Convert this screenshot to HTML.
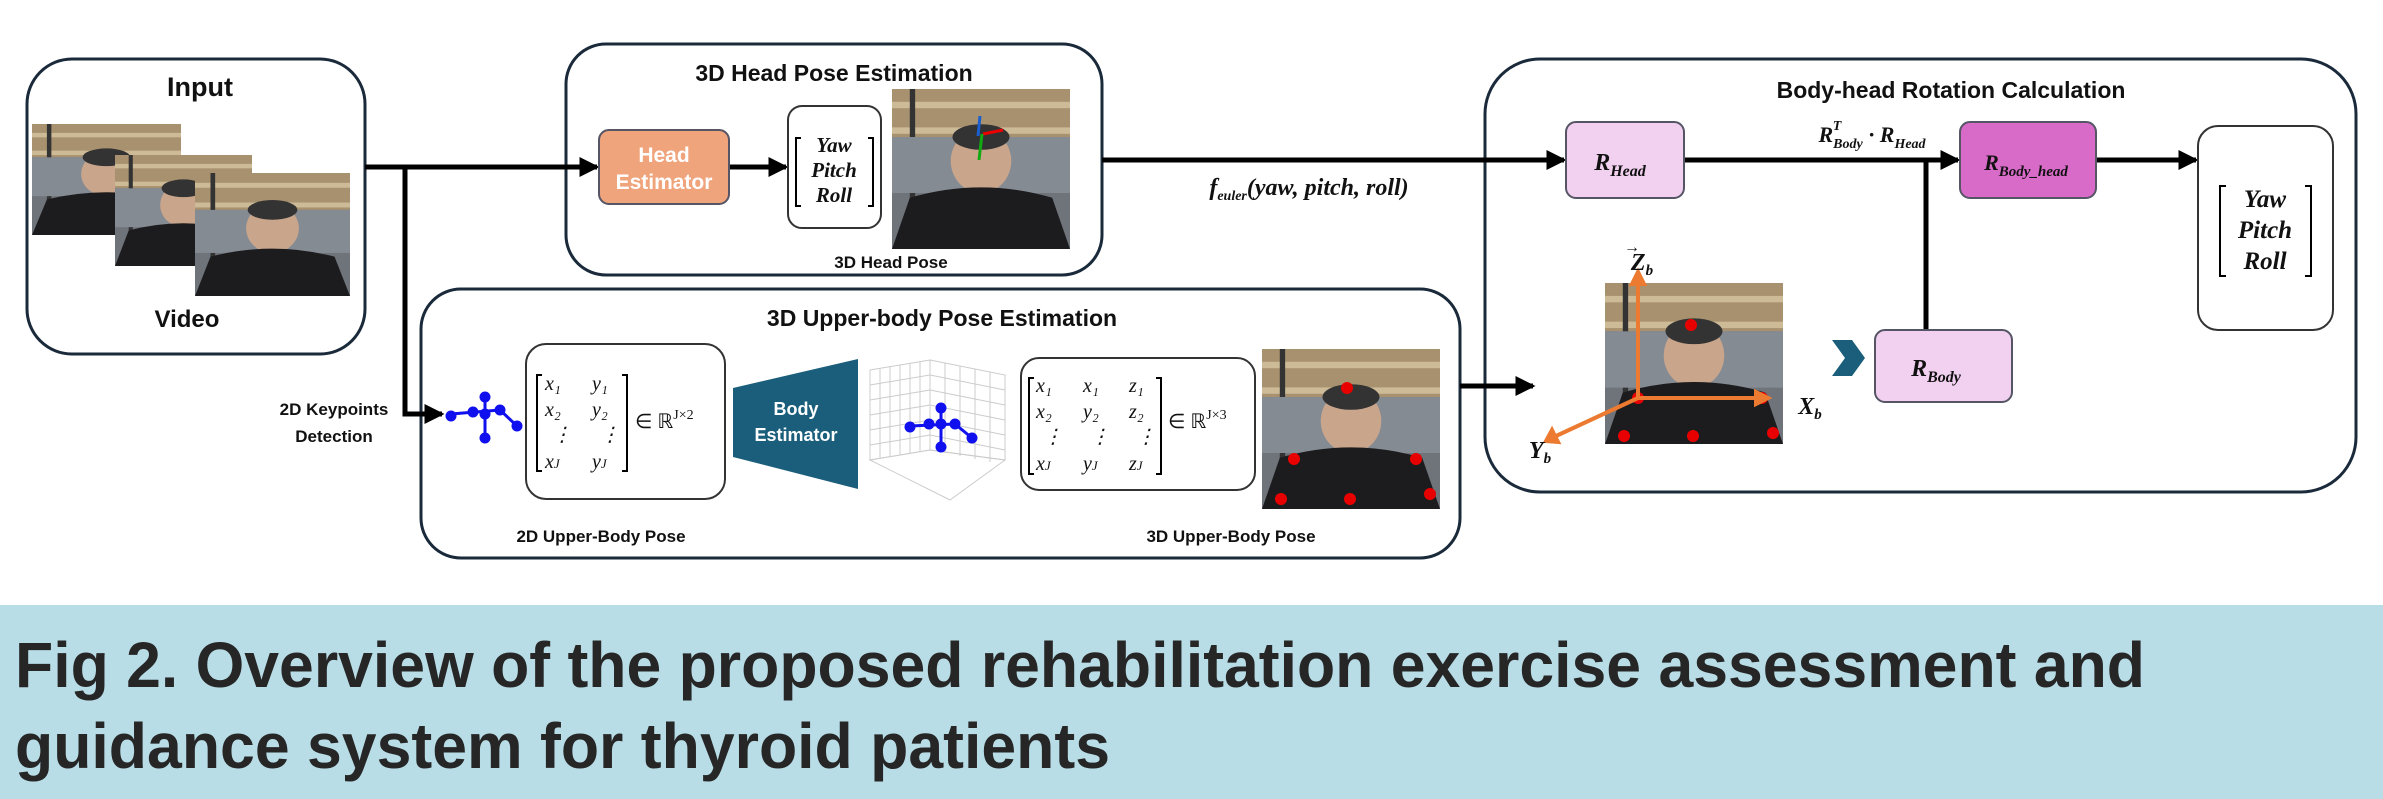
<!DOCTYPE html>
<html><head><meta charset="utf-8"><style>
html,body{margin:0;padding:0;background:#fff;width:2383px;height:799px;overflow:hidden}
svg{display:block}
.t{font-family:"Liberation Sans",sans-serif;font-weight:bold;fill:#111}
.m{font-family:"Liberation Serif",serif;font-style:italic;font-weight:bold;fill:#111}
</style></head><body>
<svg width="2383" height="799" viewBox="0 0 2383 799" xmlns="http://www.w3.org/2000/svg">
<defs>
<marker id="ar" markerWidth="4" markerHeight="4" refX="3.5" refY="2" orient="auto" markerUnits="strokeWidth"><path d="M0,0 L4,2 L0,4 z" fill="#000"/></marker>
<symbol id="ph" viewBox="0 0 100 100" preserveAspectRatio="none">
<rect width="100" height="100" fill="#6f747b"/>
<rect width="100" height="30" fill="#a8916e"/>
<rect y="8" width="100" height="4" fill="#cdbb98"/>
<rect y="24" width="100" height="4" fill="#cdbb98"/>
<rect x="10" y="0" width="3" height="100" fill="#333"/>
<rect x="0" y="30" width="100" height="35" fill="#858b93"/>
<ellipse cx="50" cy="45" rx="17" ry="20" fill="#c9a58c"/>
<ellipse cx="50" cy="30" rx="16" ry="8" fill="#333"/>
<path d="M0,100 L10,68 Q50,55 90,68 L100,100 z" fill="#1c1c1e"/>
</symbol>
</defs>

<rect x="0" y="605" width="2383" height="194" fill="#b8dde7"/>
<text x="15" y="687" class="t" font-size="64" textLength="2130" lengthAdjust="spacingAndGlyphs" style="fill:#262626">Fig 2. Overview of the proposed rehabilitation exercise assessment and</text>
<text x="15" y="768" class="t" font-size="64" textLength="1095" lengthAdjust="spacingAndGlyphs" style="fill:#262626">guidance system for thyroid patients</text>

<g fill="none" stroke="#1a2a3a" stroke-width="3">
<rect x="27" y="59" width="338" height="295" rx="45"/>
<rect x="566" y="44" width="536" height="231" rx="40"/>
<rect x="421" y="289" width="1039" height="269" rx="40"/>
<rect x="1485" y="59" width="871" height="433" rx="55"/>
</g>

<text x="200" y="96" class="t" font-size="27" text-anchor="middle">Input</text>
<use href="#ph" x="32" y="124" width="149" height="111"/>
<use href="#ph" x="115" y="155" width="137" height="111"/>
<use href="#ph" x="195" y="173" width="155" height="123"/>
<text x="187" y="327" class="t" font-size="24" text-anchor="middle">Video</text>

<g stroke="#000" stroke-width="5" fill="none">
<line x1="365" y1="167" x2="597" y2="167" marker-end="url(#ar)"/>
<polyline points="405,167 405,414 442,414" marker-end="url(#ar)"/>
<line x1="729" y1="167" x2="786" y2="167" marker-end="url(#ar)"/>
<line x1="1102" y1="160" x2="1564" y2="160" marker-end="url(#ar)"/>
<line x1="1684" y1="160" x2="1958" y2="160" marker-end="url(#ar)"/>
<line x1="1926" y1="160" x2="1926" y2="330"/>
<line x1="2096" y1="160" x2="2196" y2="160" marker-end="url(#ar)"/>
<line x1="1460" y1="386" x2="1533" y2="386" marker-end="url(#ar)"/>
</g>

<text x="834" y="81" class="t" font-size="23" text-anchor="middle">3D Head Pose Estimation</text>
<rect x="599" y="130" width="130" height="74" rx="10" fill="#f0a47c" stroke="#556" stroke-width="2"/>
<text x="664" y="162" class="t" font-size="21" text-anchor="middle" style="fill:#fff">Head</text>
<text x="664" y="189" class="t" font-size="21" text-anchor="middle" style="fill:#fff">Estimator</text>
<rect x="788" y="106" width="93" height="122" rx="14" fill="#fff" stroke="#333" stroke-width="2"/>
<path d="M801,138 h-5 v68 h5 M868,138 h5 v68 h-5" stroke="#000" stroke-width="2" fill="none"/>
<text x="834" y="152" class="m" font-size="21" text-anchor="middle">Yaw</text>
<text x="834" y="177" class="m" font-size="21" text-anchor="middle">Pitch</text>
<text x="834" y="202" class="m" font-size="21" text-anchor="middle">Roll</text>
<use href="#ph" x="892" y="89" width="178" height="160"/>
<line x1="980" y1="116" x2="978" y2="136" stroke="#1a5fd0" stroke-width="3"/>
<line x1="983" y1="134" x2="1003" y2="130" stroke="#e00" stroke-width="3"/>
<line x1="982" y1="134" x2="979" y2="160" stroke="#1a1" stroke-width="3"/>
<text x="891" y="268" class="t" font-size="17" text-anchor="middle">3D Head Pose</text>

<text x="942" y="326" class="t" font-size="23" text-anchor="middle">3D Upper-body Pose Estimation</text>
<text x="334" y="415" class="t" font-size="17" text-anchor="middle">2D Keypoints</text>
<text x="334" y="442" class="t" font-size="17" text-anchor="middle">Detection</text>
<g stroke="#1010ee" stroke-width="3" fill="#1010ee">
<line x1="485" y1="395" x2="485" y2="439"/><line x1="451" y1="414" x2="500" y2="410"/><line x1="500" y1="410" x2="517" y2="426"/>
<circle cx="485" cy="397" r="4"/><circle cx="485" cy="414" r="4"/><circle cx="451" cy="416" r="4"/><circle cx="473" cy="412" r="4"/><circle cx="500" cy="410" r="4"/><circle cx="517" cy="426" r="4"/><circle cx="485" cy="438" r="4"/>
</g>
<rect x="526" y="344" width="199" height="155" rx="20" fill="#fff" stroke="#333" stroke-width="2"/>
<path d="M542,375 h-5 v96 h5 M622,375 h5 v96 h-5" stroke="#000" stroke-width="2" fill="none"/>
<g class="m" font-size="20" style="font-weight:normal">
<text x="545" y="390">x₁</text><text x="592" y="390">y₁</text>
<text x="545" y="416">x₂</text><text x="592" y="416">y₂</text>
<text x="552" y="441">⋮</text><text x="600" y="441">⋮</text>
<text x="545" y="468">x<tspan font-size="13">J</tspan></text><text x="592" y="468">y<tspan font-size="13">J</tspan></text>
<text x="635" y="428" style="font-style:normal">∈ ℝ<tspan font-size="14" dy="-9">J×2</tspan></text>
</g>
<text x="601" y="542" class="t" font-size="17" text-anchor="middle">2D Upper-Body Pose</text>
<polygon points="733,388 858,359 858,489 733,457" fill="#1b5e7b"/>
<text x="796" y="415" class="t" font-size="18" text-anchor="middle" style="fill:#fff">Body</text>
<text x="796" y="441" class="t" font-size="18" text-anchor="middle" style="fill:#fff">Estimator</text>
<g stroke="#ccc" stroke-width="1" fill="none">
<path d="M870,370 L930,360 L930,450 L870,460 z M880,368 v90 M890,366 v90 M900,365 v90 M910,363 v90 M920,362 v90 M870,385 L930,375 M870,400 L930,390 M870,415 L930,405 M870,430 L930,420 M870,445 L930,435"/>
<path d="M930,360 L1005,375 L1005,460 L930,450 z M945,363 v90 M960,366 v90 M975,369 v90 M990,372 v90 M930,375 L1005,390 M930,390 L1005,405 M930,405 L1005,420 M930,420 L1005,435 M930,435 L1005,450"/>
<path d="M870,460 L930,450 L1005,460 L950,500 z"/>
</g>
<g stroke="#1010ee" stroke-width="3" fill="#1010ee">
<line x1="941" y1="405" x2="941" y2="448"/><line x1="910" y1="426" x2="955" y2="424"/><line x1="955" y1="424" x2="972" y2="438"/>
<circle cx="941" cy="408" r="4"/><circle cx="941" cy="424" r="4"/><circle cx="910" cy="427" r="4"/><circle cx="929" cy="424" r="4"/><circle cx="955" cy="424" r="4"/><circle cx="972" cy="438" r="4"/><circle cx="941" cy="447" r="4"/>
</g>
<rect x="1021" y="358" width="234" height="132" rx="18" fill="#fff" stroke="#333" stroke-width="2"/>
<path d="M1034,378 h-5 v96 h5 M1156,378 h5 v96 h-5" stroke="#000" stroke-width="2" fill="none"/>
<g class="m" font-size="20" style="font-weight:normal">
<text x="1036" y="392">x₁</text><text x="1083" y="392">x₁</text><text x="1129" y="392">z₁</text>
<text x="1036" y="418">x₂</text><text x="1083" y="418">y₂</text><text x="1129" y="418">z₂</text>
<text x="1043" y="443">⋮</text><text x="1090" y="443">⋮</text><text x="1136" y="443">⋮</text>
<text x="1036" y="470">x<tspan font-size="13">J</tspan></text><text x="1083" y="470">y<tspan font-size="13">J</tspan></text><text x="1129" y="470">z<tspan font-size="13">J</tspan></text>
<text x="1168" y="428" style="font-style:normal">∈ ℝ<tspan font-size="14" dy="-9">J×3</tspan></text>
</g>
<use href="#ph" x="1262" y="349" width="178" height="160"/>
<g fill="#e80000"><circle cx="1347" cy="388" r="6"/><circle cx="1294" cy="459" r="6"/><circle cx="1416" cy="459" r="6"/><circle cx="1281" cy="499" r="6"/><circle cx="1350" cy="499" r="6"/><circle cx="1430" cy="494" r="6"/></g>
<text x="1231" y="542" class="t" font-size="17" text-anchor="middle">3D Upper-Body Pose</text>

<text x="1951" y="98" class="t" font-size="23" text-anchor="middle">Body-head Rotation Calculation</text>
<text x="1309" y="195" class="m" font-size="24" text-anchor="middle">f<tspan font-size="14" dy="5">euler</tspan><tspan dy="-5">(yaw, pitch, roll)</tspan></text>
<rect x="1566" y="122" width="118" height="76" rx="10" fill="#f2d0ef" stroke="#556" stroke-width="2"/>
<text x="1620" y="170" class="m" font-size="24" text-anchor="middle">R<tspan font-size="16" dy="6">Head</tspan></text>
<text x="1872" y="142" class="m" font-size="22" text-anchor="middle">R<tspan font-size="14" dy="6">Body</tspan><tspan font-size="14" dy="-18" dx="-30">T</tspan><tspan dy="12" dx="22"> · R</tspan><tspan font-size="14" dy="6">Head</tspan></text>
<rect x="1960" y="122" width="136" height="76" rx="10" fill="#d86ac8" stroke="#556" stroke-width="2"/>
<text x="2026" y="170" class="m" font-size="22" text-anchor="middle">R<tspan font-size="15" dy="6">Body_head</tspan></text>
<rect x="2198" y="126" width="135" height="204" rx="20" fill="#fff" stroke="#333" stroke-width="2"/>
<path d="M2226,186 h-6 v90 h6 M2305,186 h6 v90 h-6" stroke="#000" stroke-width="2" fill="none"/>
<text x="2265" y="207" class="m" font-size="25" text-anchor="middle">Yaw</text>
<text x="2265" y="238" class="m" font-size="25" text-anchor="middle">Pitch</text>
<text x="2265" y="269" class="m" font-size="25" text-anchor="middle">Roll</text>
<use href="#ph" x="1605" y="283" width="178" height="161"/>
<g fill="#e80000"><circle cx="1691" cy="325" r="6"/><circle cx="1638" cy="398" r="6"/><circle cx="1762" cy="398" r="6"/><circle cx="1624" cy="436" r="6"/><circle cx="1693" cy="436" r="6"/><circle cx="1773" cy="433" r="6"/></g>
<g stroke="#ec7a30" stroke-width="4" fill="#ec7a30">
<line x1="1638" y1="398" x2="1638" y2="282"/><polygon points="1632,284 1644,284 1638,272"/>
<line x1="1638" y1="398" x2="1758" y2="398"/><polygon points="1756,392 1756,404 1768,398"/>
<line x1="1638" y1="398" x2="1556" y2="436"/><polygon points="1552,430 1558,442 1546,441"/>
</g>
<text x="1642" y="270" class="m" font-size="24" text-anchor="middle">Z<tspan font-size="15" dy="5">b</tspan></text>
<text x="1624" y="252" class="m" font-size="16">→</text>
<text x="1810" y="414" class="m" font-size="24" text-anchor="middle">X<tspan font-size="15" dy="5">b</tspan></text>
<text x="1540" y="458" class="m" font-size="24" text-anchor="middle">Y<tspan font-size="15" dy="5">b</tspan></text>
<polygon points="1832,340 1852,340 1865,358 1852,376 1832,376 1845,358" fill="#1b5e7b"/>
<rect x="1875" y="330" width="137" height="72" rx="10" fill="#f2d0ef" stroke="#556" stroke-width="2"/>
<text x="1936" y="376" class="m" font-size="24" text-anchor="middle">R<tspan font-size="16" dy="6">Body</tspan></text>
</svg>
</body></html>
